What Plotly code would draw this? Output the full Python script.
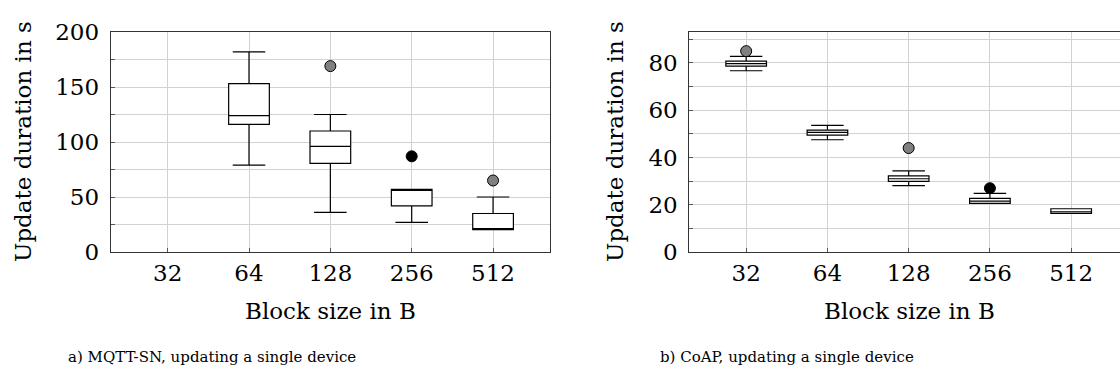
import plotly.graph_objects as go

# ---------------- data ----------------
blocks = ["32", "64", "128", "256", "512"]

# a) MQTT-SN
mq_x = ["64", "128", "256", "512"]
mq_low = [79, 36, 27, 20.3]
mq_q1 = [116, 80.5, 42, 20.3]
mq_med = [124, 96, 57, 20.3]
mq_q3 = [153, 110, 57, 35]
mq_high = [182, 125, 57, 50]
mq_out_x = ["128", "256", "512"]
mq_out_y = [169, 87, 65]
mq_out_col = ["#808080", "#000000", "#808080"]

# b) CoAP
co_x = ["32", "64", "128", "256", "512"]
co_low = [76.7, 47.5, 28.1, 20.6, 16.3]
co_q1 = [78.7, 49.5, 29.9, 20.6, 16.3]
co_med = [79.7, 50.6, 31.0, 21.5, 17.0]
co_q3 = [80.8, 51.6, 32.2, 22.7, 18.3]
co_high = [82.8, 53.6, 34.3, 24.8, 18.3]
co_out_x = ["32", "128", "256"]
co_out_y = [85, 44, 27]
co_out_col = ["#808080", "#808080", "#000000"]

x_title = "Block size in B"
y_title = "Update duration in s"
cap_a = "a) MQTT-SN, updating a single device"
cap_b = "b) CoAP, updating a single device"

# ---------------- figure ----------------
W, H = 1120, 374
FONT = "DejaVu Serif"
fig = go.Figure()

def add_panel(xs, low, q1, med, q3, high, ox, oy, ocol, xa, ya):
    fig.add_trace(go.Box(
        x=xs, lowerfence=low, q1=q1, median=med, q3=q3, upperfence=high,
        xaxis=xa, yaxis=ya, width=0.5, whiskerwidth=0.8,
        fillcolor="white", line=dict(color="black", width=1.2),
        boxpoints=False, hoverinfo="skip"))
    fig.add_trace(go.Scatter(
        x=ox, y=oy, mode="markers", xaxis=xa, yaxis=ya,
        marker=dict(size=11, color=ocol, line=dict(color="black", width=1)),
        hoverinfo="skip"))

add_panel(mq_x, mq_low, mq_q1, mq_med, mq_q3, mq_high,
          mq_out_x, mq_out_y, mq_out_col, "x", "y")
add_panel(co_x, co_low, co_q1, co_med, co_q3, co_high,
          co_out_x, co_out_y, co_out_col, "x2", "y2")

L = dict(l=0, r=0, t=32, b=122)
plot_h = H - L["t"] - L["b"]
bottom_px = H - L["b"]

def px_x(p):
    return p / W

def px_y(p):
    return (bottom_px - p) / plot_h

common_x = dict(
    type="category", categoryorder="array", categoryarray=blocks,
    showgrid=True, gridcolor="#d2d2d2", gridwidth=1,
    showline=True, linecolor="#333333", linewidth=1, mirror=True,
    ticks="inside", ticklen=4, tickcolor="#555555",
    tickfont=dict(family=FONT, size=23, color="black"),
    zeroline=False, fixedrange=True,
)
common_y = dict(
    showgrid=True, gridcolor="#d2d2d2", gridwidth=1,
    showline=True, linecolor="#333333", linewidth=1,
    ticks="inside", ticklen=4, tickcolor="#555555",
    tickfont=dict(family=FONT, size=23, color="black"),
    zeroline=False, fixedrange=True,
)

fig.update_layout(
    width=W, height=H, margin=L,
    paper_bgcolor="white", plot_bgcolor="white", showlegend=False,
    xaxis=dict(common_x, domain=[px_x(110.7), px_x(550)], range=[-0.7, 4.7], anchor="y"),
    yaxis=dict(common_y, domain=[0, 1], range=[0, 200], dtick=50, mirror=True,
               minor=dict(dtick=25, showgrid=True, gridcolor="#d2d2d2",
                          ticks="inside", ticklen=4, tickcolor="#555555"),
               anchor="x", ticklabelstandoff=6),
    xaxis2=dict(common_x, domain=[px_x(689.3), 1.0], range=[-0.7, 4.601], anchor="y2"),
    yaxis2=dict(common_y, domain=[0, 1], range=[0, 93.1], dtick=20, mirror=False,
                minor=dict(dtick=10, showgrid=True, gridcolor="#d2d2d2",
                           ticks="inside", ticklen=4, tickcolor="#555555"),
                anchor="x2", ticklabelstandoff=6),
)

ann_font = dict(family=FONT, size=23, color="black")
cap_font = dict(family=FONT, size=15, color="black")
annotations = [
    dict(text=y_title, x=px_x(23), y=0.5, textangle=-90, font=ann_font),
    dict(text=y_title, x=px_x(615), y=0.5, textangle=-90, font=ann_font),
    dict(text=x_title, x=px_x(330), y=px_y(311), font=ann_font),
    dict(text=x_title, x=px_x(909), y=px_y(311), font=ann_font),
    dict(text=cap_a, x=px_x(212), y=px_y(357), font=cap_font),
    dict(text=cap_b, x=px_x(787), y=px_y(357), font=cap_font),
]
for a in annotations:
    a.update(xref="paper", yref="paper", showarrow=False,
             xanchor="center", yanchor="middle")
fig.update_layout(annotations=annotations)

fig.write_html("out.html")
